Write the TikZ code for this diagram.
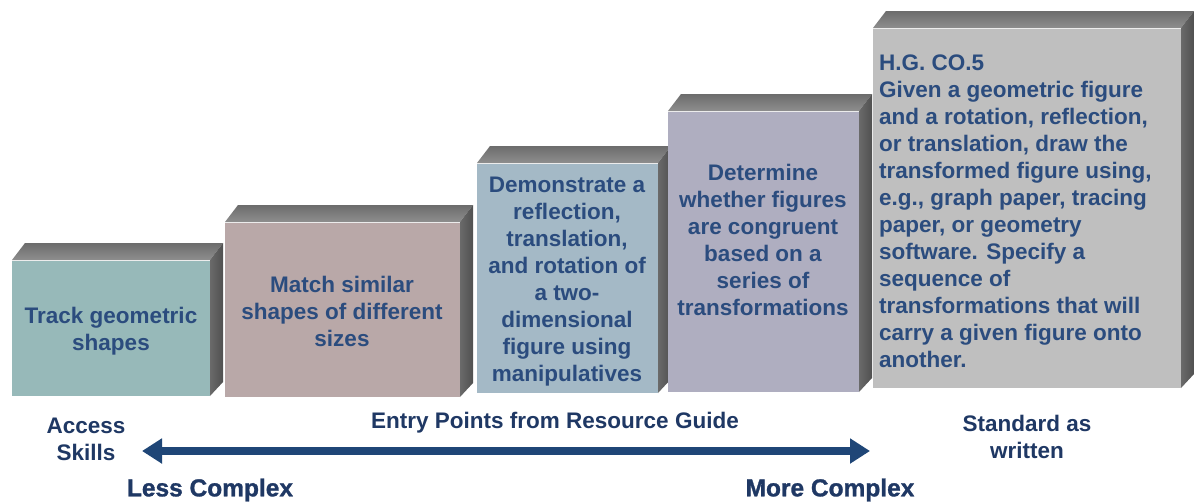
\documentclass[tikz,border=0pt]{standalone}
\usepackage{fontspec}
\setmainfont{Liberation Sans}
\newfontfamily\heavyfont{Liberation Sans}[BoldFeatures={FakeBold=1.2}]
\usetikzlibrary{arrows.meta}
\definecolor{txt}{HTML}{2B4C7E}
\definecolor{lab}{HTML}{1F3864}
\definecolor{arr}{HTML}{1F4677}
\definecolor{fOne}{HTML}{97B9B9}
\definecolor{fTwo}{HTML}{B9A8A8}
\definecolor{fThree}{HTML}{A4B9C6}
\definecolor{fFour}{HTML}{AFAEC0}
\definecolor{fFive}{HTML}{BFBFBF}
\definecolor{topA}{HTML}{6C6C6C}
\definecolor{topB}{HTML}{8E8E8E}
\definecolor{sideA}{HTML}{505050}
\definecolor{sideB}{HTML}{6A6A6A}
\tikzset{
  boxtxt/.style={font=\bfseries\fontsize{22.5}{27}\selectfont, text=txt, align=center, inner sep=0pt},
  labtxt/.style={font=\bfseries\fontsize{22.5}{27}\selectfont, text=lab, align=center, inner sep=0pt},
  heavytxt/.style={font=\heavyfont\bfseries\fontsize{24.5}{29}\selectfont, text=lab, inner sep=0pt},
  topface/.style={top color=topA, bottom color=topB},
  sideface/.style={left color=sideB, right color=sideA},
  highlight/.style={draw=white!85!gray, line width=1.2pt}
}
\newcommand\stepcube[5]{%
  \shade[topface] (#1,#2) -- (#1+13,#2-17) -- (#3+13,#2-17) -- (#3,#2) -- cycle;
  \shade[sideface] (#3,#2) -- (#3+13,#2-17) -- (#3+13,#4-14) -- (#3,#4) -- cycle;
  \fill[#5] (#1,#2) rectangle (#3,#4);
  \draw[highlight] (#1,#2+0.6) -- (#3,#2+0.6);
}
\begin{document}
\begin{tikzpicture}[x=1pt,y=-1pt]
\useasboundingbox[fill=white] (0,0) rectangle (1194,501);
\stepcube{12}{260}{210}{396}{fOne}
\stepcube{225}{222}{460}{397}{fTwo}
\stepcube{477}{163}{658}{393}{fThree}
\stepcube{668}{111}{859}{392}{fFour}
\stepcube{873}{28}{1181}{388}{fFive}

\node[boxtxt] (t1) at (111,331) {Track geometric\\shapes};
\node[boxtxt] (t2) at (342,311) {Match similar\\shapes of different\\sizes};
\node[boxtxt] (t3) at (567,281.5) {Demonstrate a\\reflection,\\translation,\\and rotation of\\a two-\\dimensional\\figure using\\manipulatives};
\node[boxtxt] (t4) at (763,239.5) {Determine\\whether figures\\are congruent\\based on a\\series of\\transformations};
\node[boxtxt, align=left, anchor=north west] (t5) at (879,55) {H.G. CO.5\\Given a geometric figure\\and a rotation, reflection,\\or translation, draw the\\transformed figure using,\\e.g., graph paper, tracing\\paper, or geometry\\software. Specify a\\sequence of\\transformations that will\\carry a given figure onto\\another.};

\node[labtxt] (acc) at (86,439) {Access\\Skills};
\node[labtxt] (entry) at (555,423) {Entry Points from Resource Guide};
\node[labtxt] (std) at (1027,437) {Standard as\\written};
\node[heavytxt] (less) at (210,490) {Less Complex};
\node[heavytxt] (more) at (830,490) {More Complex};

\coordinate (aL) at (142,451);
\coordinate (aR) at (870,451);
\draw[arr, line width=8pt, {Triangle[length=20pt,width=24pt]}-{Triangle[length=20pt,width=24pt]}] (aL) -- (aR);
\end{tikzpicture}
\end{document}
